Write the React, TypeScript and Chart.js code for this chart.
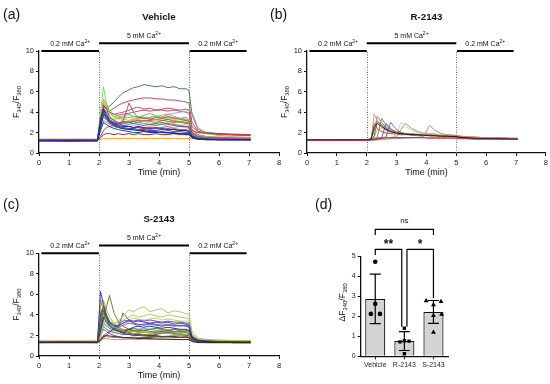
import React, { useEffect, useRef } from 'react';
import { Chart, registerables } from 'chart.js';
Chart.register(...registerables);

const FONT = '"Liberation Sans", Arial, Helvetica, sans-serif';

// ---------- shared time axis (min) for all traces ----------
const TIME = [0, 1, 1.95, 2.05, 2.15, 2.25, 2.35, 2.5, 2.65, 2.8, 3.0, 3.15, 3.3, 3.5, 3.7, 3.9, 4.1, 4.3, 4.5, 4.7, 4.9, 5.0, 5.1, 5.3, 5.6, 6.0, 6.5, 7.05];

// ---------- perfusion protocol ----------
const STIM_SEGMENTS = [[0.08, 2.0], [2.0, 5.0], [5.02, 6.92]];
const STIM_LEVELS = [10, 10.75, 10];
const STIM_LABELS = ['0.2 mM Ca', '5 mM Ca', '0.2 mM Ca'];
const STIM_SWITCH_TIMES = [2, 5];

// ---------- (a) Vehicle traces ----------
const VEHICLE_COLORS = ['#1b1f8f', '#6a3fb5', '#2346d8', '#0d2a8a', '#222222', '#9c27b0', '#c2378f', '#4fb7e8', '#2a9d8f', '#2ca02c', '#66dd55', '#f08a24', '#e3cf3a', '#ff7fa8', '#8b5a2b', '#9aa32a', '#8bc34a', '#d62728', '#a5a5a5', '#8b1a1a', '#ff8c00', '#7b52ab', '#e53935', '#c0395a', '#357a38'];
const VEHICLE_TRACES = [
  [1.2, 1.2, 1.2, 3.2, 4.3, 3.7, 3.2, 2.9, 2.7, 2.6, 2.6, 2.5, 2.6, 2.5, 2.4, 2.5, 2.4, 2.3, 2.3, 2.2, 2.2, 2.1, 1.6, 1.4, 1.35, 1.3, 1.3, 1.3],
  [1.25, 1.3, 1.25, 2.9, 3.9, 3.4, 3.0, 2.8, 2.9, 3.1, 3.0, 2.9, 2.8, 2.7, 2.8, 2.9, 3.0, 2.8, 2.7, 2.6, 2.6, 2.5, 1.7, 1.45, 1.4, 1.35, 1.35, 1.3],
  [1.2, 1.2, 1.2, 3.5, 4.0, 3.5, 3.1, 2.8, 2.6, 2.5, 2.4, 2.4, 2.3, 2.3, 2.2, 2.2, 2.3, 2.2, 2.1, 2.1, 2.0, 2.0, 1.6, 1.4, 1.35, 1.3, 1.3, 1.3],
  [1.2, 1.15, 1.2, 2.2, 3.0, 2.8, 2.6, 2.4, 2.3, 2.2, 2.1, 2.0, 2.0, 2.1, 2.0, 2.0, 2.1, 2.0, 2.0, 1.9, 1.9, 1.9, 1.5, 1.35, 1.3, 1.3, 1.3, 1.3],
  [1.25, 1.25, 1.25, 2.5, 3.8, 3.4, 3.0, 2.7, 2.5, 2.4, 2.3, 2.3, 2.2, 2.2, 2.1, 2.1, 2.0, 2.0, 1.9, 1.9, 1.8, 1.8, 1.5, 1.35, 1.3, 1.3, 1.3, 1.3],
  [1.2, 1.25, 1.2, 3.0, 4.7, 4.3, 3.6, 3.1, 2.9, 2.7, 2.6, 2.5, 2.5, 2.4, 2.5, 2.4, 2.3, 2.4, 2.3, 2.2, 2.2, 2.1, 1.6, 1.4, 1.35, 1.3, 1.3, 1.3],
  [1.2, 1.2, 1.2, 2.8, 4.2, 3.8, 3.3, 3.0, 2.9, 3.1, 4.9, 4.0, 3.5, 3.4, 3.3, 3.5, 3.4, 3.6, 3.4, 3.3, 3.2, 3.1, 2.0, 1.6, 1.5, 1.45, 1.4, 1.4],
  [1.25, 1.25, 1.25, 2.4, 3.2, 3.0, 2.8, 2.6, 2.5, 2.4, 2.3, 2.2, 2.2, 2.1, 2.1, 2.0, 2.0, 1.9, 1.9, 1.9, 1.8, 1.8, 1.5, 1.4, 1.35, 1.35, 1.3, 1.3],
  [1.25, 1.25, 1.25, 2.9, 4.1, 3.6, 3.2, 2.9, 2.8, 2.7, 2.8, 2.9, 3.0, 2.9, 2.8, 2.7, 2.8, 2.9, 2.8, 2.7, 2.6, 2.6, 1.8, 1.5, 1.45, 1.4, 1.4, 1.35],
  [1.3, 1.3, 1.3, 3.1, 4.4, 4.0, 3.5, 3.2, 3.0, 2.9, 3.0, 3.1, 3.0, 3.2, 3.1, 3.0, 3.2, 3.3, 3.1, 3.0, 2.9, 2.9, 1.9, 1.6, 1.5, 1.5, 1.45, 1.4],
  [1.3, 1.3, 1.3, 4.0, 6.5, 4.8, 3.9, 3.6, 3.5, 3.4, 3.5, 3.6, 3.5, 3.4, 3.5, 3.6, 3.5, 3.4, 3.5, 3.4, 3.3, 3.2, 2.1, 1.7, 1.6, 1.5, 1.5, 1.45],
  [1.3, 1.3, 1.3, 3.3, 5.1, 4.6, 4.0, 3.6, 3.4, 3.3, 3.2, 3.3, 3.4, 3.5, 3.3, 3.2, 3.4, 3.3, 3.2, 3.1, 3.2, 3.0, 2.0, 1.7, 1.6, 1.55, 1.5, 1.5],
  [1.3, 1.3, 1.3, 3.0, 4.9, 4.5, 3.9, 3.5, 3.3, 3.1, 3.0, 2.9, 3.0, 3.1, 2.9, 2.8, 2.9, 3.0, 2.8, 2.7, 2.8, 2.7, 1.9, 1.6, 1.5, 1.5, 1.45, 1.45],
  [1.3, 1.3, 1.3, 2.6, 3.9, 3.5, 3.1, 2.8, 2.6, 2.5, 2.6, 2.7, 2.6, 2.5, 2.6, 2.7, 2.8, 2.6, 2.5, 2.6, 2.5, 2.4, 1.8, 1.55, 1.5, 1.45, 1.4, 1.4],
  [1.3, 1.3, 1.3, 2.7, 3.6, 3.3, 2.9, 2.6, 2.5, 2.4, 2.3, 2.4, 2.5, 2.4, 2.3, 2.4, 2.5, 2.6, 2.4, 2.3, 2.3, 2.2, 1.7, 1.5, 1.45, 1.4, 1.4, 1.4],
  [1.3, 1.3, 1.3, 2.8, 4.0, 3.7, 3.4, 3.3, 3.4, 3.6, 3.8, 3.6, 3.5, 3.7, 3.9, 3.6, 3.5, 3.8, 3.6, 3.4, 3.5, 3.3, 2.0, 1.6, 1.5, 1.5, 1.45, 1.4],
  [1.3, 1.3, 1.3, 3.6, 5.3, 4.8, 4.2, 3.8, 3.6, 3.5, 3.5, 3.4, 3.6, 3.5, 3.4, 3.3, 3.4, 3.5, 3.3, 3.4, 3.3, 3.2, 2.0, 1.7, 1.6, 1.55, 1.5, 1.5],
  [1.35, 1.35, 1.35, 1.6, 2.2, 2.5, 2.6, 2.7, 2.8, 2.9, 3.0, 3.1, 3.2, 3.1, 3.2, 3.3, 3.2, 3.1, 3.0, 3.1, 3.0, 2.9, 2.2, 2.0, 1.95, 1.9, 1.85, 1.8],
  [1.3, 1.3, 1.3, 2.5, 3.5, 3.2, 3.0, 2.8, 2.9, 3.0, 3.1, 3.2, 3.3, 3.4, 3.5, 3.6, 3.7, 3.8, 3.9, 4.0, 4.1, 4.2, 4.0, 2.5, 1.9, 1.7, 1.6, 1.55],
  [1.3, 1.3, 1.3, 1.5, 1.8, 1.9, 1.9, 1.8, 1.9, 1.8, 1.9, 1.8, 1.9, 1.8, 1.8, 1.9, 1.8, 1.8, 1.9, 1.8, 1.8, 1.8, 1.6, 1.5, 1.45, 1.4, 1.4, 1.4],
  [1.3, 1.3, 1.3, 1.35, 1.4, 1.4, 1.4, 1.45, 1.4, 1.45, 1.4, 1.45, 1.4, 1.4, 1.45, 1.4, 1.45, 1.4, 1.45, 1.4, 1.4, 1.4, 1.4, 1.4, 1.35, 1.35, 1.35, 1.35],
  [1.25, 1.25, 1.25, 3.0, 4.5, 4.3, 4.0, 3.8, 3.7, 3.8, 3.9, 4.0, 4.1, 4.2, 4.1, 4.2, 4.2, 4.1, 4.2, 4.1, 4.0, 3.9, 2.3, 1.8, 1.6, 1.5, 1.45, 1.4],
  [1.3, 1.3, 1.3, 3.2, 4.8, 4.5, 4.0, 3.8, 3.9, 4.0, 4.2, 4.4, 4.5, 4.3, 4.4, 4.2, 4.3, 4.4, 4.3, 4.2, 4.3, 4.2, 2.6, 2.1, 1.95, 1.85, 1.8, 1.75],
  [1.3, 1.3, 1.3, 3.0, 4.2, 4.0, 4.1, 4.4, 4.7, 4.9, 5.1, 5.2, 5.3, 5.4, 5.4, 5.3, 5.3, 5.2, 5.2, 5.1, 5.0, 4.9, 3.0, 2.1, 1.9, 1.8, 1.75, 1.7],
  [1.3, 1.3, 1.3, 3.5, 4.6, 4.4, 4.6, 5.0, 5.5, 5.9, 6.2, 6.4, 6.5, 6.7, 6.6, 6.5, 6.6, 6.4, 6.5, 6.3, 6.3, 6.1, 3.8, 2.3, 2.0, 1.9, 1.8, 1.75],
];

// ---------- (b) R-2143 traces ----------
const R2143_COLORS = ['#c8174a', '#111111', '#d2905a', '#c06080', '#555555', '#4a9a3a', '#7b4fd0', '#3a5bd0', '#e6d35a', '#a07890', '#9080a8', '#e03030', '#30b030', '#f0a040'];
const R2143_TRACES = [
  [1.25, 1.25, 1.25, 1.25, 1.3, 1.35, 1.4, 1.45, 1.5, 1.5, 1.5, 1.5, 1.5, 1.5, 1.5, 1.5, 1.45, 1.45, 1.45, 1.45, 1.45, 1.45, 1.4, 1.4, 1.35, 1.35, 1.35, 1.35],
  [1.3, 1.3, 1.3, 1.3, 1.4, 2.5, 2.9, 2.6, 2.3, 2.1, 1.95, 1.9, 1.85, 1.8, 1.8, 1.75, 1.7, 1.7, 1.65, 1.65, 1.6, 1.6, 1.55, 1.5, 1.45, 1.4, 1.4, 1.35],
  [1.3, 1.3, 1.3, 1.3, 1.4, 3.8, 3.2, 2.6, 2.3, 2.1, 2.0, 1.9, 1.9, 1.85, 1.8, 1.8, 1.75, 1.75, 1.7, 1.7, 1.7, 1.7, 1.65, 1.6, 1.55, 1.5, 1.45, 1.45],
  [1.3, 1.3, 1.3, 1.3, 1.35, 2.2, 3.6, 3.0, 2.5, 2.2, 2.0, 1.9, 1.85, 1.8, 1.8, 1.75, 1.75, 1.7, 1.7, 1.7, 1.65, 1.65, 1.6, 1.55, 1.5, 1.5, 1.45, 1.4],
  [1.3, 1.3, 1.3, 1.3, 1.35, 1.6, 3.1, 2.8, 2.4, 2.1, 2.0, 1.9, 1.85, 1.8, 1.8, 1.75, 1.7, 1.7, 1.7, 1.65, 1.65, 1.6, 1.55, 1.5, 1.5, 1.45, 1.4, 1.4],
  [1.3, 1.3, 1.3, 1.3, 1.3, 1.35, 1.5, 3.4, 2.7, 2.3, 2.1, 2.0, 1.9, 1.85, 1.8, 1.8, 1.75, 1.75, 1.7, 1.7, 1.7, 1.65, 1.6, 1.55, 1.5, 1.45, 1.45, 1.4],
  [1.3, 1.3, 1.3, 1.3, 1.3, 1.3, 1.35, 1.4, 1.6, 3.0, 2.3, 2.0, 1.9, 1.85, 1.8, 1.8, 1.75, 1.7, 1.7, 1.7, 1.65, 1.7, 1.6, 1.55, 1.5, 1.45, 1.4, 1.4],
  [1.3, 1.3, 1.3, 1.3, 1.3, 1.3, 1.35, 1.5, 2.9, 2.4, 2.0, 1.9, 1.85, 1.8, 1.75, 1.75, 1.7, 1.7, 1.7, 1.65, 1.65, 1.6, 1.55, 1.5, 1.45, 1.45, 1.4, 1.4],
  [1.3, 1.3, 1.3, 1.3, 1.3, 1.3, 1.3, 1.35, 1.4, 1.5, 1.8, 3.0, 2.6, 2.2, 2.0, 1.9, 1.85, 1.8, 1.8, 1.75, 1.75, 1.7, 1.65, 1.6, 1.55, 1.5, 1.45, 1.45],
  [1.3, 1.3, 1.3, 1.3, 1.3, 1.3, 1.3, 1.35, 1.4, 1.45, 1.6, 2.3, 2.9, 2.4, 2.1, 1.95, 1.9, 1.85, 1.8, 1.75, 1.75, 1.7, 1.65, 1.6, 1.55, 1.5, 1.45, 1.4],
  [1.3, 1.3, 1.3, 1.3, 1.3, 1.3, 1.3, 1.3, 1.35, 1.4, 1.4, 1.45, 1.5, 1.5, 1.55, 1.6, 2.7, 2.2, 1.9, 1.8, 1.75, 1.7, 1.65, 1.6, 1.55, 1.5, 1.45, 1.4],
  [1.3, 1.3, 1.3, 1.3, 1.45, 2.9, 2.4, 2.1, 1.95, 1.9, 1.85, 1.8, 1.8, 1.75, 1.75, 1.7, 1.7, 1.7, 1.65, 1.65, 1.6, 1.6, 1.55, 1.5, 1.45, 1.45, 1.4, 1.4],
  [1.3, 1.3, 1.3, 1.35, 1.4, 1.45, 1.5, 1.5, 1.5, 1.5, 1.5, 1.5, 1.5, 1.5, 1.5, 1.5, 1.5, 1.5, 1.5, 1.5, 1.5, 1.5, 1.45, 1.45, 1.4, 1.4, 1.4, 1.35],
  [1.3, 1.3, 1.3, 1.3, 1.35, 1.6, 2.2, 2.5, 2.2, 2.0, 1.9, 1.85, 1.85, 1.9, 1.85, 1.8, 1.8, 1.75, 1.75, 1.7, 1.7, 1.7, 1.65, 1.6, 1.55, 1.5, 1.5, 1.45],
];

// ---------- (c) S-2143 traces ----------
const S2143_COLORS = ['#222222', '#5a5a20', '#1a237e', '#3030c0', '#6b6b1a', '#9a9a30', '#a8c840', '#9ad060', '#6040c0', '#2a48a8', '#b8a020', '#3a3a3a', '#4a8a30', '#3aa0a0', '#7a4a20', '#e07090', '#8a8a40', '#8e44ad', '#5ab0e0', '#d08030', '#5a3ab0', '#c0d040'];
const S2143_TRACES = [
  [1.3, 1.3, 1.3, 1.5, 1.9, 2.0, 1.95, 1.9, 1.85, 1.8, 1.75, 1.75, 1.7, 1.7, 1.7, 1.65, 1.65, 1.65, 1.6, 1.6, 1.6, 1.6, 1.4, 1.3, 1.3, 1.3, 1.3, 1.3],
  [1.3, 1.35, 1.3, 3.2, 4.4, 3.7, 3.0, 2.6, 2.4, 2.2, 2.1, 2.0, 2.0, 1.95, 1.9, 1.9, 1.85, 1.85, 1.8, 1.8, 1.8, 1.75, 1.5, 1.35, 1.3, 1.3, 1.3, 1.3],
  [1.3, 1.3, 1.3, 2.5, 3.8, 3.3, 2.9, 2.6, 2.4, 2.3, 2.6, 2.8, 2.9, 2.8, 2.9, 2.8, 2.7, 2.8, 2.7, 2.6, 2.6, 2.5, 1.7, 1.45, 1.4, 1.35, 1.3, 1.3],
  [1.35, 1.4, 1.35, 6.3, 5.0, 3.9, 3.3, 3.0, 2.9, 3.2, 3.4, 3.3, 3.4, 3.3, 3.2, 3.3, 3.2, 3.3, 3.1, 3.2, 3.1, 3.0, 1.9, 1.55, 1.45, 1.4, 1.4, 1.35],
  [1.4, 1.4, 1.4, 2.5, 3.5, 4.8, 5.9, 4.2, 3.3, 2.9, 2.6, 2.5, 2.4, 2.5, 2.4, 2.3, 2.4, 2.5, 2.3, 2.4, 2.3, 2.2, 1.7, 1.5, 1.45, 1.4, 1.4, 1.4],
  [1.4, 1.4, 1.4, 5.5, 4.6, 3.7, 3.2, 2.8, 2.6, 2.5, 2.4, 2.4, 2.3, 2.3, 2.2, 2.3, 2.2, 2.2, 2.1, 2.2, 2.1, 2.1, 1.65, 1.5, 1.45, 1.4, 1.4, 1.4],
  [1.4, 1.4, 1.4, 2.0, 3.5, 3.2, 2.9, 3.0, 3.4, 3.9, 4.5, 4.3, 4.6, 4.8, 4.3, 4.5, 4.6, 4.2, 4.4, 4.3, 4.1, 4.1, 2.4, 1.7, 1.6, 1.55, 1.5, 1.5],
  [1.4, 1.4, 1.4, 1.8, 3.0, 3.6, 3.4, 3.2, 3.3, 3.5, 3.8, 4.0, 3.8, 3.9, 4.1, 3.9, 3.8, 4.0, 3.9, 3.8, 3.7, 3.6, 2.1, 1.65, 1.55, 1.5, 1.5, 1.5],
  [1.35, 1.35, 1.35, 1.5, 1.8, 2.0, 2.3, 2.7, 3.1, 3.4, 3.5, 3.4, 3.5, 3.4, 3.5, 3.4, 3.3, 3.4, 3.3, 3.3, 3.2, 3.2, 1.9, 1.55, 1.45, 1.4, 1.4, 1.35],
  [1.35, 1.35, 1.35, 4.2, 4.8, 3.9, 3.3, 2.9, 2.8, 4.2, 3.5, 3.2, 3.1, 3.0, 3.1, 3.0, 2.9, 3.0, 2.9, 3.0, 2.9, 2.8, 1.8, 1.5, 1.45, 1.4, 1.35, 1.35],
  [1.4, 1.4, 1.4, 4.8, 5.4, 4.5, 3.8, 3.2, 2.8, 2.6, 2.5, 2.4, 2.5, 2.4, 2.3, 2.4, 2.5, 2.6, 2.4, 2.5, 2.4, 2.4, 1.7, 1.5, 1.45, 1.45, 1.4, 1.4],
  [1.35, 1.35, 1.35, 3.9, 4.6, 3.8, 3.2, 2.8, 2.5, 2.3, 2.2, 2.1, 2.1, 2.0, 2.0, 2.0, 1.9, 1.9, 1.9, 1.8, 1.8, 1.8, 1.5, 1.4, 1.35, 1.35, 1.3, 1.3],
  [1.4, 1.4, 1.4, 3.0, 4.2, 3.6, 3.0, 2.7, 2.6, 2.5, 2.6, 2.7, 2.6, 2.5, 2.6, 2.7, 2.6, 2.5, 2.6, 2.5, 2.5, 2.4, 1.7, 1.5, 1.5, 1.45, 1.45, 1.4],
  [1.35, 1.35, 1.35, 2.2, 3.1, 2.9, 2.7, 2.5, 2.4, 2.5, 2.6, 2.5, 2.4, 2.5, 2.6, 2.5, 2.4, 2.3, 2.4, 2.3, 2.3, 2.2, 1.6, 1.45, 1.4, 1.4, 1.4, 1.35],
  [1.4, 1.4, 1.4, 2.0, 2.6, 2.4, 2.2, 2.0, 1.9, 1.8, 1.8, 1.75, 1.75, 1.8, 1.8, 1.85, 1.85, 1.9, 1.9, 1.85, 1.9, 1.85, 1.6, 1.5, 1.45, 1.45, 1.4, 1.4],
  [1.45, 1.45, 1.45, 1.6, 1.7, 1.7, 1.65, 1.6, 1.6, 1.6, 1.65, 1.6, 1.6, 1.65, 1.6, 1.65, 1.6, 1.6, 1.65, 1.6, 1.6, 1.6, 1.5, 1.45, 1.45, 1.45, 1.45, 1.45],
  [1.4, 1.4, 1.4, 3.5, 4.9, 4.0, 3.4, 3.0, 2.7, 2.5, 2.3, 2.2, 2.2, 2.1, 2.1, 2.2, 2.3, 2.4, 2.2, 2.1, 2.0, 2.0, 1.6, 1.5, 1.45, 1.4, 1.4, 1.4],
  [1.35, 1.35, 1.35, 1.6, 2.0, 2.2, 2.4, 2.6, 2.8, 3.0, 3.2, 3.1, 3.0, 3.1, 3.2, 3.1, 3.0, 3.1, 3.0, 2.9, 3.0, 2.9, 1.8, 1.5, 1.45, 1.4, 1.4, 1.35],
  [1.35, 1.35, 1.35, 2.8, 3.3, 3.0, 2.7, 2.5, 2.4, 2.3, 2.4, 2.5, 2.6, 2.7, 2.6, 2.7, 2.6, 2.5, 2.6, 2.5, 2.4, 2.4, 1.65, 1.45, 1.4, 1.4, 1.4, 1.35],
  [1.4, 1.4, 1.4, 1.7, 2.0, 1.9, 1.85, 1.8, 1.8, 1.75, 1.8, 1.85, 1.8, 1.8, 1.85, 1.9, 1.9, 1.95, 2.0, 2.0, 2.1, 2.0, 1.6, 1.5, 1.45, 1.45, 1.45, 1.4],
  [1.35, 1.35, 1.35, 2.1, 2.9, 2.6, 2.4, 2.3, 2.2, 2.1, 2.1, 2.0, 2.0, 2.1, 2.0, 2.1, 2.2, 2.3, 2.2, 2.1, 2.0, 2.0, 1.6, 1.45, 1.4, 1.35, 1.35, 1.3],
  [1.45, 1.45, 1.45, 3.0, 4.0, 3.5, 3.1, 2.9, 3.0, 3.2, 3.5, 3.7, 3.6, 3.5, 3.6, 3.7, 3.5, 3.6, 3.5, 3.4, 3.4, 3.3, 2.0, 1.7, 1.6, 1.55, 1.5, 1.5],
];

// ---------- (d) summary ----------
const GROUPS = ['Vehicle', 'R-2143', 'S-2143'];
const GROUP_MEANS = [2.87, 0.76, 2.22];
const GROUP_SD = [1.24, 0.47, 0.57];
const VEHICLE_POINTS = [4.73, 2.62, 2.12, 2.12];
const R2143_POINTS = [1.4, 0.72, 0.78, 0.76, 0.13];
const S2143_POINTS = [2.77, 2.74, 2.57, 2.1, 2.04, 1.2];
const VEHICLE_JITTER = [0, 0, -0.15, 0.16];
const R2143_JITTER = [0, -0.15, 0, 0.16, 0];
const S2143_JITTER = [-0.25, 0.26, 0, 0.28, 0, 0];
const BRACKET_PAIRS = [[0, 2], [0, 1], [1, 2]];
const BRACKET_LABELS = ['ns', '**', '*'];
const BRACKET_LEVELS = [6.35, 5.35, 5.35];
const BRACKET_LEG_ENDS = [[6.07, 6.07], [5.07, 1.48], [1.48, 2.9]];

type Part = { t: string; size: number; dy?: number; bold?: boolean };

function setFont(ctx: CanvasRenderingContext2D, p: Part) {
  ctx.font = `${p.bold ? 'bold ' : ''}${p.size}px ${FONT}`;
}
function drawRich(ctx: CanvasRenderingContext2D, parts: Part[], cx: number, baseline: number) {
  let w = 0;
  parts.forEach((p) => { setFont(ctx, p); w += ctx.measureText(p.t).width; });
  let x = cx - w / 2;
  ctx.textAlign = 'left';
  ctx.textBaseline = 'alphabetic';
  parts.forEach((p) => {
    setFont(ctx, p);
    ctx.fillText(p.t, x, baseline + (p.dy || 0));
    x += ctx.measureText(p.t).width;
  });
}

function makeTraceDecor(title: string, letter: string, letterX: number) {
  return {
    id: 'traceDecor',
    beforeDatasetsDraw(chart: any) {
      const { ctx, scales: { x, y } } = chart;
      ctx.save();
      ctx.strokeStyle = '#666';
      ctx.lineWidth = 1;
      ctx.setLineDash([1, 1.5]);
      STIM_SWITCH_TIMES.forEach((t) => {
        const px = Math.round(x.getPixelForValue(t)) + 0.5;
        ctx.beginPath();
        ctx.moveTo(px, y.getPixelForValue(0));
        ctx.lineTo(px, y.getPixelForValue(STIM_LEVELS[0]));
        ctx.stroke();
      });
      ctx.restore();
    },
    afterDraw(chart: any) {
      const { ctx, chartArea, scales: { x, y } } = chart;
      ctx.save();
      ctx.fillStyle = '#111';
      ctx.strokeStyle = '#000';
      ctx.lineWidth = 2;
      STIM_SEGMENTS.forEach(([t0, t1], i) => {
        const py = y.getPixelForValue(STIM_LEVELS[i]);
        ctx.beginPath();
        ctx.moveTo(x.getPixelForValue(t0), py);
        ctx.lineTo(x.getPixelForValue(t1), py);
        ctx.stroke();
        drawRich(ctx, [{ t: STIM_LABELS[i], size: 7 }, { t: '2+', size: 5, dy: -3 }], x.getPixelForValue((t0 + t1) / 2), py - 5.5);
      });
      drawRich(ctx, [{ t: title, size: 9.7, bold: true }], (chartArea.left + chartArea.right) / 2, chartArea.top - 31.2);
      ctx.font = `14px ${FONT}`;
      ctx.textAlign = 'left';
      ctx.fillText(letter, letterX, 18.5);
      ctx.translate(chartArea.left - 23.5, (chartArea.top + chartArea.bottom) / 2);
      ctx.rotate(-Math.PI / 2);
      drawRich(ctx, [{ t: 'F', size: 8.5 }, { t: '340', size: 5.8, dy: 2 }, { t: '/F', size: 8.5 }, { t: '380', size: 5.8, dy: 2 }], 0, 3);
      ctx.restore();
    },
  };
}

function TraceChart(props: any) {
  const { left, top, width, height, padTop, title, letter, letterX, traces, colors } = props;
  const ref = useRef<HTMLCanvasElement>(null);
  useEffect(() => {
    const tickFont = { size: 7.5, family: FONT };
    const chart = new Chart(ref.current as HTMLCanvasElement, {
      type: 'line',
      data: {
        datasets: traces.map((vals: number[], i: number) => ({
          data: TIME.map((t, k) => ({ x: t, y: vals[k] })),
          borderColor: colors[i],
          borderWidth: 0.9,
          pointRadius: 0,
          fill: false,
          tension: 0,
        })),
      },
      options: {
        responsive: false,
        animation: false,
        events: [],
        layout: { padding: { top: padTop, right: width - 279, left: 0, bottom: 0 } },
        plugins: { legend: { display: false }, tooltip: { enabled: false } },
        scales: {
          x: {
            type: 'linear', min: 0, max: 8,
            afterFit: (s: any) => { s.height = 39; },
            ticks: { stepSize: 1, font: tickFont, color: '#222', padding: 2, maxRotation: 0, autoSkip: false },
            grid: { display: true, drawOnChartArea: false, drawTicks: true, tickLength: 3, color: '#111', lineWidth: 1 },
            border: { display: true, color: '#111', width: 1.3 },
            title: { display: true, text: 'Time (min)', font: { size: 9, family: FONT }, color: '#111', padding: { top: 0, bottom: 13.6 } },
          },
          y: {
            min: 0, max: 10,
            afterFit: (s: any) => { s.width = 39; },
            ticks: { stepSize: 2, font: tickFont, color: '#222', padding: 2 },
            grid: { display: true, drawOnChartArea: false, drawTicks: true, tickLength: 3, color: '#111', lineWidth: 1 },
            border: { display: true, color: '#111', width: 1.3 },
          },
        },
      } as any,
      plugins: [makeTraceDecor(title, letter, letterX)],
    });
    return () => chart.destroy();
  }, []);
  return <canvas ref={ref} width={width} height={height} style={{ position: 'absolute', left, top, width, height }} />;
}

const barDecor = {
  id: 'barDecor',
  afterDatasetsDraw(chart: any) {
    const { ctx, scales: { x, y } } = chart;
    ctx.save();
    ctx.strokeStyle = '#000';
    ctx.lineWidth = 1.2;
    GROUP_MEANS.forEach((m, i) => {
      const px = x.getPixelForValue(i);
      const t = y.getPixelForValue(m + GROUP_SD[i]);
      const b = y.getPixelForValue(m - GROUP_SD[i]);
      ctx.beginPath();
      ctx.moveTo(px, t); ctx.lineTo(px, b);
      ctx.moveTo(px - 5.5, t); ctx.lineTo(px + 5.5, t);
      ctx.moveTo(px - 5.5, b); ctx.lineTo(px + 5.5, b);
      ctx.stroke();
    });
    ctx.restore();
  },
  afterDraw(chart: any) {
    const { ctx, chartArea, scales: { x, y } } = chart;
    ctx.save();
    ctx.strokeStyle = '#000';
    ctx.fillStyle = '#111';
    ctx.lineWidth = 1.2;
    BRACKET_PAIRS.forEach(([a, b], k) => {
      let xa = x.getPixelForValue(a);
      let xb = x.getPixelForValue(b);
      // legs meeting on the shared middle group sit slightly apart
      if (k === 1) xb -= 2.6;
      if (k === 2) xa += 2.6;
      const py = y.getPixelForValue(BRACKET_LEVELS[k]);
      ctx.beginPath();
      ctx.moveTo(xa, y.getPixelForValue(BRACKET_LEG_ENDS[k][0]));
      ctx.lineTo(xa, py);
      ctx.lineTo(xb, py);
      ctx.lineTo(xb, y.getPixelForValue(BRACKET_LEG_ENDS[k][1]));
      ctx.stroke();
      const lbl = BRACKET_LABELS[k];
      if (lbl === 'ns') drawRich(ctx, [{ t: lbl, size: 8 }], (xa + xb) / 2, py - 6.6);
      else drawRich(ctx, [{ t: lbl, size: 12, bold: true }], (xa + xb) / 2, py - 1);
    });
    ctx.font = `14px ${FONT}`;
    ctx.textAlign = 'left';
    ctx.fillText('(d)', 3, 18.5);
    ctx.translate(chartArea.left - 18.7, (chartArea.top + chartArea.bottom) / 2 - 4);
    ctx.rotate(-Math.PI / 2);
    drawRich(ctx, [{ t: 'ΔF', size: 8.5 }, { t: '340', size: 6, dy: 2 }, { t: '/F', size: 8.5 }, { t: '380', size: 6, dy: 2 }], 0, 3);
    ctx.restore();
  },
};

function SummaryChart() {
  const ref = useRef<HTMLCanvasElement>(null);
  useEffect(() => {
    const tickFont = { size: 7, family: FONT };
    const pts = (vals: number[], jit: number[], g: number) => vals.map((v, i) => ({ x: g + jit[i], y: v }));
    const chart = new Chart(ref.current as HTMLCanvasElement, {
      type: 'bar',
      data: {
        datasets: [
          { type: 'scatter', data: pts(VEHICLE_POINTS, VEHICLE_JITTER, 0), pointStyle: 'circle', pointRadius: 2.3, backgroundColor: '#000', borderColor: '#000', borderWidth: 0 },
          { type: 'scatter', data: pts(R2143_POINTS, R2143_JITTER, 1), pointStyle: 'rect', pointRadius: 2.4, backgroundColor: '#000', borderColor: '#000', borderWidth: 0 },
          { type: 'scatter', data: pts(S2143_POINTS, S2143_JITTER, 2), pointStyle: 'triangle', pointRadius: 2.8, backgroundColor: '#000', borderColor: '#000', borderWidth: 0 },
          { type: 'bar', data: GROUP_MEANS.map((m, i) => ({ x: i, y: m })), backgroundColor: '#d4d4d4', borderColor: '#111', borderWidth: 1.2, barPercentage: 0.69, categoryPercentage: 1 },
        ],
      } as any,
      options: {
        responsive: false,
        animation: false,
        events: [],
        layout: { padding: { top: 66.3, right: 102, left: 0, bottom: 0 } },
        plugins: { legend: { display: false }, tooltip: { enabled: false } },
        scales: {
          x: {
            type: 'linear', min: -0.5, max: 2.5, offset: false,
            afterBuildTicks: (s: any) => { s.ticks = GROUPS.map((_, i) => ({ value: i })); },
            afterFit: (s: any) => { s.height = 27.7; },
            ticks: { font: tickFont, color: '#222', padding: 2, maxRotation: 0, autoSkip: false, callback: (v: any) => GROUPS[v] ?? '' },
            grid: { display: true, offset: false, drawOnChartArea: false, drawTicks: true, tickLength: 3, color: '#111', lineWidth: 1 },
            border: { display: true, color: '#111', width: 1.3 },
          },
          y: {
            min: 0, max: 5,
            afterFit: (s: any) => { s.width = 48.7; },
            ticks: { stepSize: 1, font: tickFont, color: '#222', padding: 2 },
            grid: { display: true, drawOnChartArea: false, drawTicks: true, tickLength: 3, color: '#111', lineWidth: 1 },
            border: { display: true, color: '#111', width: 1.3 },
          },
        },
      } as any,
      plugins: [barDecor],
    });
    return () => chart.destroy();
  }, []);
  return <canvas ref={ref} width={238} height={194} style={{ position: 'absolute', left: 312, top: 190, width: 238, height: 194 }} />;
}

export default function App() {
  return (
    <div style={{ position: 'fixed', left: 0, top: 0, width: 550, height: 384, overflow: 'hidden', background: '#fff' }}>
      <TraceChart left={0} top={0} width={285} height={192} padTop={51} title="Vehicle" letter="(a)" letterX={3} traces={VEHICLE_TRACES} colors={VEHICLE_COLORS} />
      <TraceChart left={268} top={0} width={282} height={192} padTop={51} title="R-2143" letter="(b)" letterX={2} traces={R2143_TRACES} colors={R2143_COLORS} />
      <TraceChart left={0} top={190} width={285} height={205} padTop={63.3} title="S-2143" letter="(c)" letterX={3} traces={S2143_TRACES} colors={S2143_COLORS} />
      <SummaryChart />
    </div>
  );
}
